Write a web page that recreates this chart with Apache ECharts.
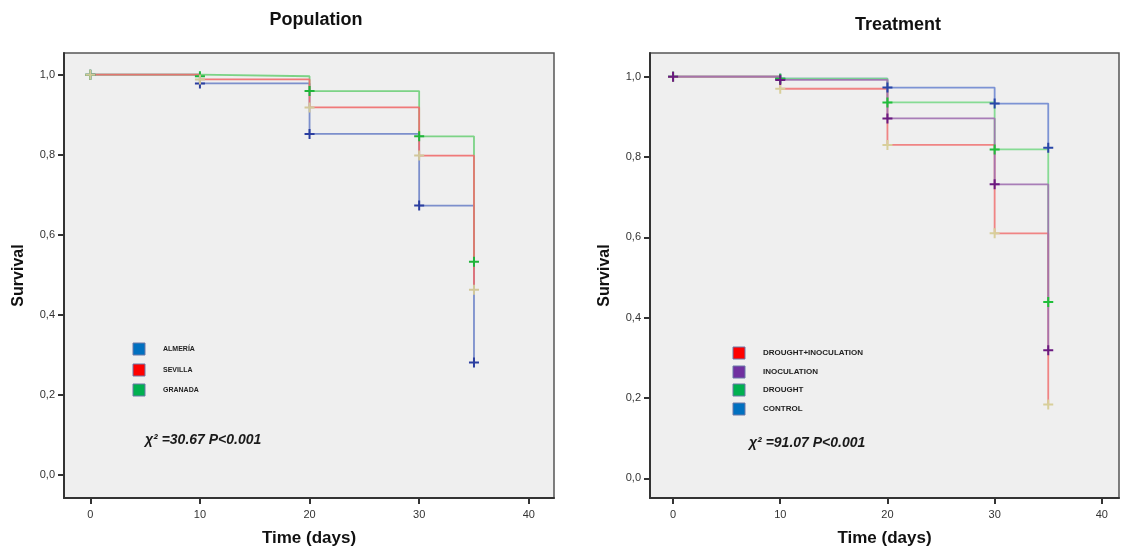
<!DOCTYPE html>
<html>
<head>
<meta charset="utf-8">
<script src="https://cdn.jsdelivr.net/npm/echarts@6/dist/echarts.min.js"></script>
<style>
  html, body { margin: 0; padding: 0; background: #fff; }
  #main { width: 1121px; height: 552px; }
</style>
</head>
<body>
<div id="main"></div>
<script>
// survival data
const days = [0, 10, 20, 30, 35];
const xTicks = [0, 10, 20, 30, 40];
const yTicks = [0, 0.2, 0.4, 0.6, 0.8, 1.0];

// Population
const almeria = [1, 0.978, 0.852, 0.673, 0.281];
const sevilla = [1, 0.988, 0.918, 0.798, 0.463];
const granada = [1, 0.996, 0.959, 0.846, 0.533];

// Treatment
const control = [1, 0.995, 0.973, 0.933, 0.823];
const drought = [1, 0.995, 0.936, 0.819, 0.439];
const droughtInoc = [1, 0.970, 0.830, 0.610, 0.184];
const inoculation = [1, 0.992, 0.896, 0.732, 0.319];

const popNames = ['ALMERÍA', 'SEVILLA', 'GRANADA'];
const treatNames = ['DROUGHT+INOCULATION', 'INOCULATION', 'DROUGHT', 'CONTROL'];

const plus = 'path://M-1,-5H1V-1H5V1H1V5H-1V1H-5V-1H-1Z';
const font = 'Liberation Sans, Arial, sans-serif';

function pts(arr) {
  return days.map((d, i) => [d, arr[i]]);
}

function km(name, arr, lineColor, markColor, idx) {
  return {
    name: name,
    type: 'line',
    step: 'end',
    xAxisIndex: idx,
    yAxisIndex: idx,
    data: pts(arr),
    symbol: plus,
    symbolSize: 10,
    showSymbol: true,
    lineStyle: { color: lineColor, width: 1.8, opacity: 0.9 },
    itemStyle: { color: markColor },
    emphasis: { disabled: true },
    silent: true
  };
}

function xAxis(idx, min, max) {
  return {
    type: 'value', gridIndex: idx, min: min, max: max,
    name: 'Time (days)', nameLocation: 'middle', nameGap: 32,
    nameTextStyle: { fontFamily: font, fontWeight: 'bold', fontSize: 17, color: '#111' },
    axisLine: { show: true, onZero: false, lineStyle: { color: '#333', width: 2 } },
    axisTick: { show: true, length: 6, customValues: xTicks, lineStyle: { color: '#333', width: 2 } },
    axisLabel: { customValues: xTicks, margin: 11, fontFamily: font, fontSize: 11, color: '#333' },
    splitLine: { show: false }
  };
}

function yAxis(idx, min, max) {
  return {
    type: 'value', gridIndex: idx, min: min, max: max,
    name: 'Survival', nameLocation: 'middle', nameGap: 37, nameRotate: 90,
    nameTextStyle: { fontFamily: font, fontWeight: 'bold', fontSize: 16, color: '#111' },
    axisLine: { show: true, onZero: false, lineStyle: { color: '#333', width: 2 } },
    axisTick: { show: true, length: 6, customValues: yTicks, lineStyle: { color: '#333', width: 2 } },
    axisLabel: {
      customValues: yTicks, margin: 9, fontFamily: font, fontSize: 11, color: '#333',
      formatter: v => v.toFixed(1).replace('.', ',')
    },
    splitLine: { show: false }
  };
}

function legendBox(names, colors, x, ys, size) {
  const out = [];
  names.forEach((n, i) => {
    out.push({
      type: 'rect',
      shape: { x: x, y: ys[i] - 6, width: 12, height: 12 },
      style: { fill: colors[i], stroke: '#6a78a8', lineWidth: 1 }
    });
    out.push({
      type: 'text',
      x: x + 30, y: ys[i],
      style: {
        text: n, fontFamily: font, fontWeight: 'bold', fontSize: size,
        fill: '#222', verticalAlign: 'middle'
      }
    });
  });
  return out;
}

function chi(text, x, y) {
  return {
    type: 'text', x: x, y: y,
    style: {
      text: text, fontFamily: font, fontWeight: 'bold', fontStyle: 'italic',
      fontSize: 14, fill: '#1a1a1a', verticalAlign: 'middle'
    }
  };
}

const chart = echarts.init(document.getElementById('main'));
chart.setOption({
  animation: false,
  backgroundColor: '#fff',
  title: [
    { text: 'Population', left: 316, top: 11, textAlign: 'center', padding: 0,
      textStyle: { fontFamily: font, fontWeight: 'bold', fontSize: 18, color: '#111' } },
    { text: 'Treatment', left: 898, top: 16, textAlign: 'center', padding: 0,
      textStyle: { fontFamily: font, fontWeight: 'bold', fontSize: 18, color: '#111' } }
  ],
  grid: [
    { left: 64, top: 53, width: 490, height: 450, show: true,
      backgroundColor: '#efefef', borderColor: '#555', borderWidth: 1.5 },
    { left: 650, top: 53, width: 469, height: 449, show: true,
      backgroundColor: '#efefef', borderColor: '#555', borderWidth: 1.5 }
  ],
  xAxis: [xAxis(0, -2.4, 42.3), xAxis(1, -2.15, 41.6)],
  yAxis: [yAxis(0, -0.057, 1.054), yAxis(1, -0.049, 1.059)],
  series: [
    km(popNames[0], almeria, '#6f84c8', '#2b3ea0', 0),
    km(popNames[2], granada, '#6fcf7a', '#1fb53a', 0),
    km(popNames[1], sevilla, '#ef6b6b', '#d2c89a', 0),
    km(treatNames[3], control, '#6f88d0', '#2846a8', 1),
    km(treatNames[2], drought, '#7ad88a', '#1fbf3a', 1),
    km(treatNames[0], droughtInoc, '#f07878', '#d8cf9a', 1),
    km(treatNames[1], inoculation, '#a070b0', '#6b1a80', 1)
  ],
  graphic: [].concat(
    legendBox(popNames, ['#0070c0', '#ff0000', '#00b050'], 133, [349, 370, 390], 7),
    legendBox(treatNames, ['#ff0000', '#7030a0', '#00b050', '#0070c0'], 733, [353, 372, 390, 409], 8),
    [chi('χ² =30.67 P<0.001', 145, 440), chi('χ² =91.07 P<0.001', 749, 443)]
  )
});
</script>
</body>
</html>
